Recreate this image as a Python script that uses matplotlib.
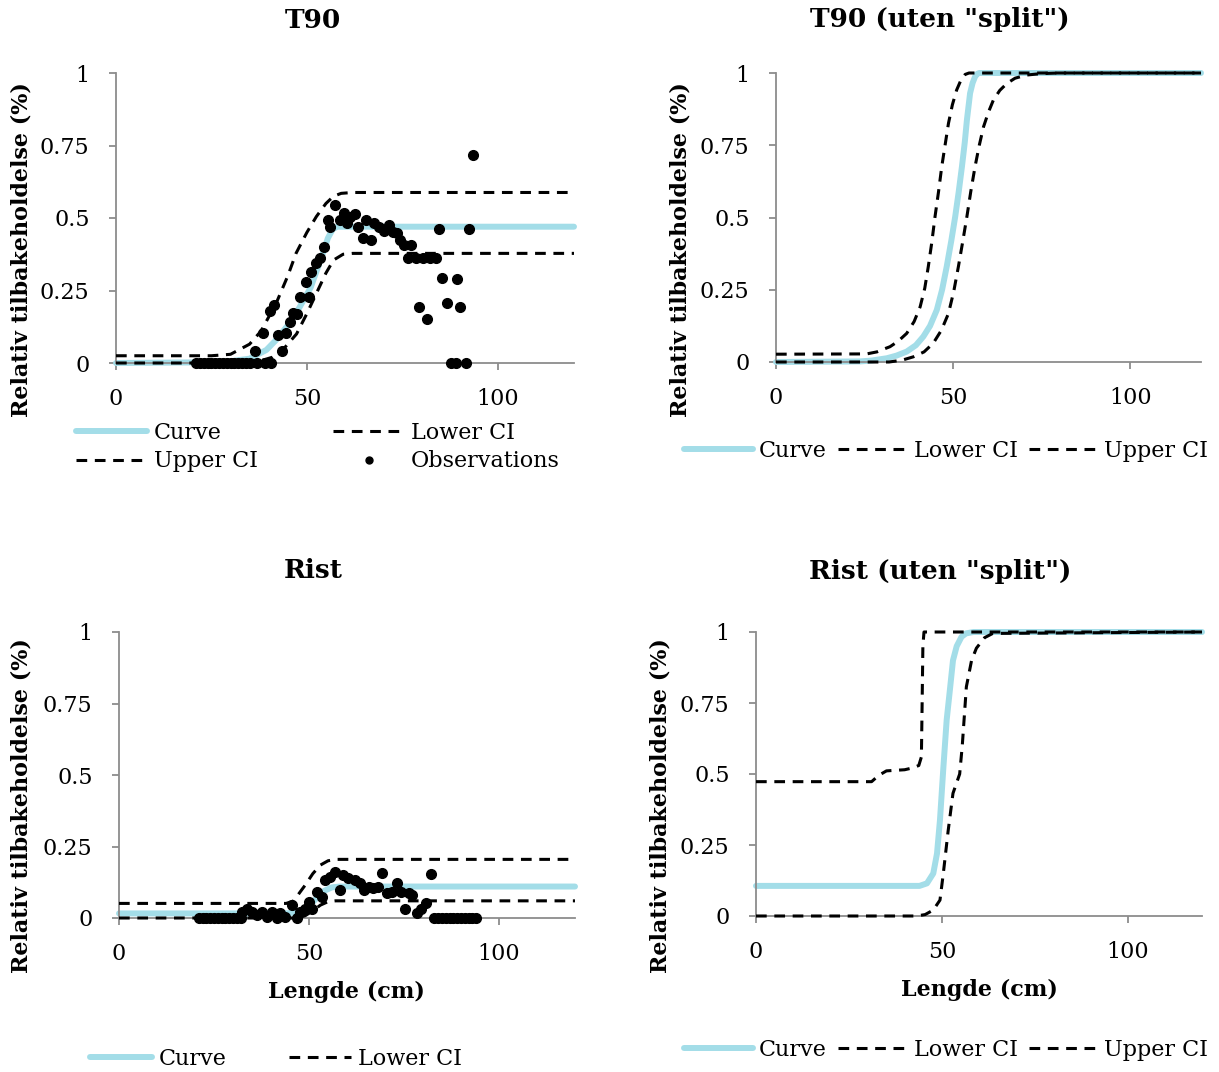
import numpy as np
import matplotlib
matplotlib.use('Agg')
import matplotlib.pyplot as plt
from matplotlib.lines import Line2D

plt.rcParams['font.family'] = ['DejaVu Serif']

CURVE_COL = '#a3dde8'
AX_COL = '#8c8c8c'

# ---- T90 ----
t90_curve_x = [0, 20, 30, 35, 39.4, 42, 45.5, 48, 51, 54, 55.5, 56.8, 58, 120]
t90_curve_y = [0.0, 0.002, 0.006, 0.015, 0.045, 0.08, 0.138, 0.19, 0.26, 0.37, 0.43, 0.462, 0.47, 0.47]
t90_up_x = [0, 25, 30, 35, 38, 42, 45, 47.2, 50, 52.5, 55, 57, 59, 62, 120]
t90_up_y = [0.025, 0.025, 0.03, 0.065, 0.11, 0.207, 0.3, 0.379, 0.45, 0.505, 0.55, 0.575, 0.585, 0.588, 0.588]
t90_lo_x = [0, 33, 38, 41, 44, 47.3, 50, 52.5, 55, 57, 59.5, 62, 120]
t90_lo_y = [0.0, 0.0, 0.008, 0.02, 0.05, 0.1, 0.17, 0.24, 0.31, 0.355, 0.375, 0.378, 0.378]
t90_obs_x = [21, 22, 23, 24, 25, 26, 27, 28, 29, 30, 31, 32, 33, 34, 35, 37, 39, 40.5,
             36.4, 38.4, 40.3, 41.4, 42.5, 43.6, 44.5, 45.5, 46.3, 47.5, 48.3, 50.6,
             49.7, 51.2, 52.4, 53.4, 54.5, 55.6, 56, 57.5, 58.6, 59.7, 60.6, 61.4,
             62.7, 63.4, 64.6, 65.4, 66.7, 67.5, 68.9, 70.2, 71.6, 72.6, 73.6, 74.5,
             75.4, 77.4, 76.5, 78.5, 80.5, 82.2, 83.8, 79.4, 81.5, 84.6, 85.4, 86.6,
             89.4, 90.1, 87.9, 89.2, 91.6, 92.4, 93.5]
t90_obs_y = [0, 0, 0, 0, 0, 0, 0, 0, 0, 0, 0, 0, 0, 0, 0, 0, 0, 0,
             0.043, 0.105, 0.18, 0.2, 0.097, 0.043, 0.105, 0.143, 0.171, 0.169, 0.226, 0.226,
             0.28, 0.315, 0.344, 0.361, 0.401, 0.493, 0.47, 0.545, 0.493, 0.518, 0.482, 0.505,
             0.513, 0.47, 0.43, 0.493, 0.424, 0.482, 0.47, 0.456, 0.476, 0.453, 0.45, 0.424,
             0.407, 0.407, 0.361, 0.361, 0.361, 0.361, 0.361, 0.194, 0.152, 0.462, 0.294, 0.206,
             0.29, 0.194, 0, 0, 0, 0.462, 0.717]

# ---- T90 (uten "split") ----
t90s_curve_x = [0, 23.7, 27, 31.3, 34, 36.9, 39.5, 41.6, 43.5, 45.4, 46.9, 48.2, 49.5, 50.6,
                51.6, 52.5, 53.3, 53.9, 54.8, 55.5, 56.2, 56.8, 57.4, 120]
t90s_curve_y = [0, 0.002, 0.005, 0.013, 0.022, 0.036, 0.058, 0.088, 0.125, 0.18, 0.25, 0.33, 0.42, 0.503,
                0.59, 0.676, 0.76, 0.837, 0.93, 0.965, 0.987, 0.997, 1, 1]
t90s_up_x = [0, 25.6, 28.5, 30.5, 32.2, 34.5, 36.9, 39, 40.7, 42, 43, 44, 44.9, 45.9, 46.8, 47.8,
             48.7, 49.8, 51, 52.2, 53.4, 54.5, 120]
t90s_up_y = [0.027, 0.028, 0.035, 0.045, 0.053, 0.072, 0.099, 0.14, 0.191, 0.255, 0.33, 0.415, 0.503,
             0.59, 0.676, 0.755, 0.826, 0.89, 0.941, 0.975, 0.995, 1.0, 1.0]
t90s_lo_x = [0, 31.9, 35.5, 38.8, 41.8, 44.4, 46.7, 48.7, 50.2, 51.5, 52.7, 53.9, 55, 56.2, 57.4,
             58.6, 60, 61.4, 63.2, 65.2, 67.5, 70.8, 75, 80, 120]
t90s_lo_y = [0, 0, 0.006, 0.018, 0.035, 0.065, 0.11, 0.168, 0.245, 0.33, 0.415, 0.503, 0.59, 0.676, 0.75,
             0.814, 0.865, 0.907, 0.94, 0.964, 0.982, 0.993, 0.998, 1, 1]

# ---- Rist ----
rist_curve_x = [0, 44, 47, 50, 52, 54, 56, 58, 120]
rist_curve_y = [0.016, 0.016, 0.02, 0.04, 0.07, 0.095, 0.107, 0.11, 0.11]
rist_up_x = [0, 44, 46, 47.5, 49, 51, 53, 55, 57, 60, 120]
rist_up_y = [0.051, 0.051, 0.06, 0.088, 0.115, 0.155, 0.185, 0.2, 0.205, 0.205, 0.205]
rist_lo_x = [0, 47, 49, 51, 53, 55, 57, 120]
rist_lo_y = [0, 0, 0.008, 0.025, 0.045, 0.057, 0.06, 0.06]
rist_obs_x = [21, 22, 23, 24, 25, 26, 27, 28, 29, 30, 31, 32,
              32.3, 33.6, 34.9, 36.2, 37.6, 38.9, 40.2, 41.5, 42.4, 43.7, 45.4, 46.8,
              47.7, 49, 49.9, 50.8, 52, 53.3, 54.2, 55.5, 56.8, 58.1, 59, 60.3,
              62.1, 63.4, 64.5, 65.7, 66.9, 68.2, 69.3, 70.4, 71.8, 73.1, 74.2, 75.3,
              76.2, 77.1, 78.3, 79.6, 80.9, 82.1,
              83, 84, 85, 86, 87, 88, 89, 90, 91, 92, 93, 94]
rist_obs_y = [0, 0, 0, 0, 0, 0, 0, 0, 0, 0, 0, 0,
              0.022, 0.03, 0.022, 0.01, 0.022, 0.005, 0.022, 0, 0.016, 0.005, 0.045, 0,
              0.022, 0.033, 0.057, 0.033, 0.092, 0.075, 0.133, 0.144, 0.162, 0.098, 0.15, 0.139,
              0.133, 0.121, 0.098, 0.11, 0.104, 0.11, 0.156, 0.086, 0.092, 0.121, 0.092, 0.033,
              0.086, 0.08, 0.016, 0.033, 0.051, 0.154,
              0, 0, 0, 0, 0, 0, 0, 0, 0, 0, 0, 0]

# ---- Rist (uten "split") ----
rists_curve_x = [0, 44, 46, 47.7, 48.7, 49.5, 50.4, 51.3, 52.2, 53, 54, 55.3, 56.5, 58.5, 120]
rists_curve_y = [0.106, 0.106, 0.115, 0.15, 0.22, 0.338, 0.52, 0.69, 0.8, 0.9, 0.95, 0.983, 0.995, 1, 1]
rists_up_x = [0, 31.1, 33, 35.1, 40, 42.3, 43.8, 44.5, 44.7, 44.9, 45.2, 120]
rists_up_y = [0.473, 0.473, 0.495, 0.511, 0.515, 0.522, 0.53, 0.56, 0.75, 0.95, 1.0, 1.0]
rists_lo_x = [0, 43.2, 45.5, 47.7, 49.5, 50.4, 51.7, 53, 54.8, 55.5, 56.6, 58, 59.3, 61.5, 63.7, 120]
rists_lo_y = [0, 0, 0.005, 0.021, 0.056, 0.15, 0.3, 0.432, 0.5, 0.6, 0.807, 0.9, 0.943, 0.98, 0.995, 1]

W, H = 1219, 1072
fig = plt.figure(figsize=(W / 100, H / 100), dpi=100)


def make_ax(x0, x120, y0, y1):
    # pixel positions of data (0,0) and (120,1)
    ax = fig.add_axes([x0 / W, 1 - y0 / H, (x120 - x0) / W, (y0 - y1) / H])
    ax.set_xlim(0, 120)
    ax.set_ylim(0, 1)
    for s in ['top', 'right']:
        ax.spines[s].set_visible(False)
    for s in ['left', 'bottom']:
        ax.spines[s].set_color(AX_COL)
        ax.spines[s].set_linewidth(1.3)
    ax.set_xticks([0, 50, 100])
    ax.set_yticks([0, 0.25, 0.5, 0.75, 1])
    ax.set_yticklabels(['0', '0.25', '0.5', '0.75', '1'])
    ax.tick_params(axis='both', colors=AX_COL, labelcolor='black', labelsize=16,
                   length=5, width=1.3)
    ax.tick_params(axis='x', pad=13)
    ax.tick_params(axis='y', pad=14)
    return ax


def draw(ax, cx, cy, ux, uy, lx, ly, ox=None, oy=None):
    ax.plot(cx, cy, color=CURVE_COL, lw=4.3, solid_capstyle='round', clip_on=False, zorder=2)
    ax.plot(ux, uy, color='black', lw=2.2, ls=(0, (3.5, 2.5)), clip_on=False, zorder=3)
    ax.plot(lx, ly, color='black', lw=2.2, ls=(0, (3.5, 2.5)), clip_on=False, zorder=3)
    if ox is not None:
        ax.plot(ox, oy, 'o', color='black', ms=7, clip_on=False, zorder=4)


h_curve = Line2D([], [], color=CURVE_COL, lw=4.3, solid_capstyle='round')
h_dash = Line2D([], [], color='black', lw=2.2, ls=(0, (3.5, 2.5)))
h_obs = Line2D([], [], color='black', ls='', marker='o', ms=5)

# top left
ax1 = make_ax(116, 574, 363, 73)
draw(ax1, t90_curve_x, t90_curve_y, t90_up_x, t90_up_y, t90_lo_x, t90_lo_y, t90_obs_x, t90_obs_y)
fig.legend([h_curve, h_dash, h_dash, h_obs], ['Curve', 'Upper CI', 'Lower CI', 'Observations'],
           ncol=2, loc='center', bbox_to_anchor=(318 / W, 1 - 447 / H), frameon=False,
           fontsize=16, handlelength=3.2, handletextpad=0.3, columnspacing=3.4,
           labelspacing=0.3)

# top right
ax2 = make_ax(776, 1201, 362, 73)
draw(ax2, t90s_curve_x, t90s_curve_y, t90s_up_x, t90s_up_y, t90s_lo_x, t90s_lo_y)
fig.legend([h_curve, h_dash, h_dash], ['Curve', 'Lower CI', 'Upper CI'],
           ncol=3, loc='center', bbox_to_anchor=(946 / W, 1 - 451 / H), frameon=False,
           fontsize=16, handlelength=3.1, handletextpad=0.3, columnspacing=0.5)

# bottom left (the legend runs off the bottom edge; only its first row is visible)
ax3 = make_ax(119, 575, 918, 632)
draw(ax3, rist_curve_x, rist_curve_y, rist_up_x, rist_up_y, rist_lo_x, rist_lo_y, rist_obs_x, rist_obs_y)
fig.legend([h_curve, h_dash], ['Curve', 'Lower CI'],
           ncol=2, loc='center', bbox_to_anchor=(276 / W, 1 - 1059 / H), frameon=False,
           fontsize=16, handlelength=2.8, handletextpad=0.3, columnspacing=2.8)

# bottom right
ax4 = make_ax(756, 1202, 916, 632)
draw(ax4, rists_curve_x, rists_curve_y, rists_up_x, rists_up_y, rists_lo_x, rists_lo_y)
fig.legend([h_curve, h_dash, h_dash], ['Curve', 'Lower CI', 'Upper CI'],
           ncol=3, loc='center', bbox_to_anchor=(946 / W, 1 - 1050 / H), frameon=False,
           fontsize=16, handlelength=3.1, handletextpad=0.3, columnspacing=0.5)

# titles and labels
tkw = dict(ha='center', va='center', fontsize=19, fontweight='bold')
fig.text(313 / W, 1 - 20 / H, 'T90', **tkw)
fig.text(940 / W, 1 - 20 / H, 'T90 (uten "split")', **tkw)
fig.text(313 / W, 1 - 571 / H, 'Rist', **tkw)
fig.text(940 / W, 1 - 571 / H, 'Rist (uten "split")', **tkw)

ykw = dict(ha='center', va='center', rotation=90, fontsize=16, fontweight='bold')
fig.text(22 / W, 1 - 250 / H, 'Relativ tilbakeholdelse (%)', **ykw)
fig.text(681 / W, 1 - 250 / H, 'Relativ tilbakeholdelse (%)', **ykw)
fig.text(22 / W, 1 - 806 / H, 'Relativ tilbakeholdelse (%)', **ykw)
fig.text(661 / W, 1 - 806 / H, 'Relativ tilbakeholdelse (%)', **ykw)

xkw = dict(ha='center', va='center', fontsize=16, fontweight='bold')
fig.text(346 / W, 1 - 992 / H, 'Lengde (cm)', **xkw)
fig.text(979 / W, 1 - 990 / H, 'Lengde (cm)', **xkw)

plt.savefig('out.png', dpi=100)
plt.close()
